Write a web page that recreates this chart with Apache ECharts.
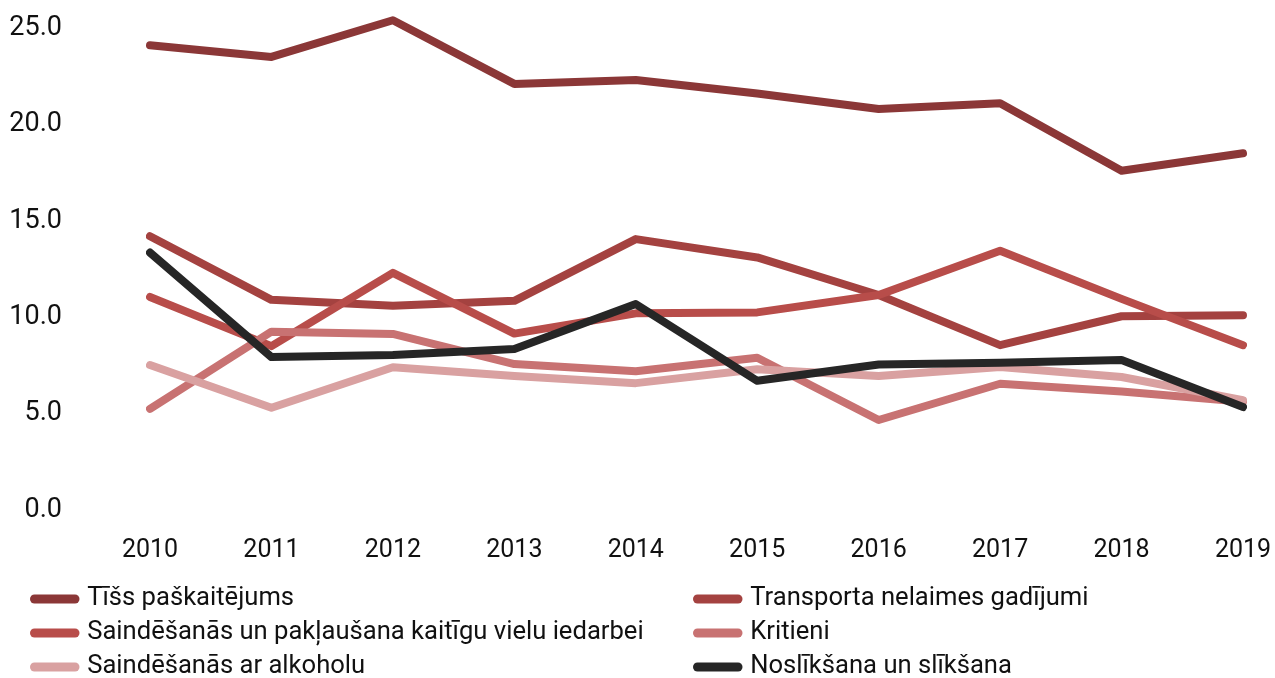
<!DOCTYPE html>
<html>
<head>
<meta charset="utf-8">
<script src="https://cdn.jsdelivr.net/npm/echarts@6/dist/echarts.min.js"></script>
<style>
html,body{margin:0;padding:0;background:#fff;}
#c{width:1275px;height:678px;}
</style>
</head>
<body>
<div id="c"></div>
<script>
const years = ['2010','2011','2012','2013','2014','2015','2016','2017','2018','2019'];
const seriesNames = [
  'Tīšs paškaitējums',
  'Transporta nelaimes gadījumi',
  'Saindēšanās un pakļaušana kaitīgu vielu iedarbei',
  'Kritieni',
  'Saindēšanās ar alkoholu',
  'Noslīkšana un slīkšana'
];
const tiss = [24.1, 23.5, 25.4, 22.1, 22.3, 21.6, 20.8, 21.1, 17.6, 18.5];
const transports = [14.2, 10.9, 10.6, 10.85, 14.05, 13.1, 11.15, 8.55, 10.05, 10.1];
const saindVielas = [11.05, 8.5, 12.3, 9.15, 10.2, 10.25, 11.15, 13.45, 10.95, 8.55];
const kritieni = [5.25, 9.25, 9.13, 7.57, 7.2, 7.9, 4.67, 6.55, 6.15, 5.62];
const alkohols = [7.52, 5.3, 7.4, 6.95, 6.58, 7.3, 6.95, 7.42, 6.9, 5.7];
const noslik = [13.35, 7.93, 8.04, 8.35, 10.68, 6.7, 7.55, 7.64, 7.78, 5.34];
const yTicks = [0, 5, 10, 15, 20, 25];

const values = [tiss, transports, saindVielas, kritieni, alkohols, noslik];
const colors = ['#8b3737', '#a44240', '#b84d4a', '#c87272', '#d9a1a1', '#262626'];

const chart = echarts.init(document.getElementById('c'), null, {renderer: 'canvas'});
const pill = 'path://M5,0 L50,0 A5,5 0 0 1 50,10 L5,10 A5,5 0 0 1 5,0 Z';
const rowCenters = [599, 633, 667];
const colLefts = [30, 693];
const legends = seriesNames.map((name, i) => ({
  orient: 'horizontal',
  left: colLefts[i % 2],
  top: rowCenters[Math.floor(i / 2)] - 13,
  icon: pill,
  itemWidth: 55,
  itemHeight: 9,
  padding: 0,
  data: [name],
  textStyle: {fontFamily: 'Roboto', fontSize: 25.6, color: '#111', lineHeight: 26}
}));
chart.setOption({
  animation: false,
  grid: {left: 150, right: 32, top: 28, bottom: 168, containLabel: false},
  legend: legends,
  xAxis: {
    type: 'category',
    data: years,
    boundaryGap: false,
    axisLine: {show: false},
    axisTick: {show: false},
    axisLabel: {fontFamily: 'Roboto', fontSize: 25, color: '#111', margin: 28}
  },
  yAxis: {
    type: 'value',
    min: yTicks[0],
    max: yTicks[yTicks.length - 1],
    interval: 5,
    splitLine: {show: false},
    axisLine: {show: false},
    axisTick: {show: false},
    axisLabel: {fontFamily: 'Roboto', fontSize: 27, color: '#111', margin: 88,
      formatter: v => v.toFixed(1)}
  },
  series: values.map((d, i) => ({
    name: seriesNames[i],
    type: 'line',
    data: d,
    clip: false,
    showSymbol: false,
    symbol: 'none',
    itemStyle: {color: colors[i]},
    lineStyle: {color: colors[i], width: 8, cap: 'round', join: 'round'},
    z: 2 + i
  }))
});
</script>
</body>
</html>
